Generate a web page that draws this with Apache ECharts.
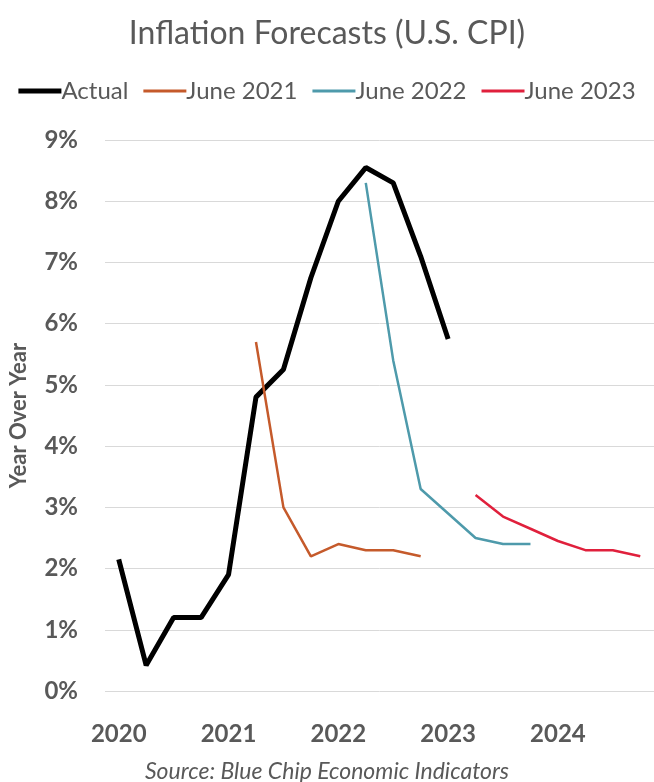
<!DOCTYPE html>
<html>
<head>
<meta charset="utf-8">
<script src="https://cdn.jsdelivr.net/npm/echarts@6/dist/echarts.min.js"></script>
<style>
  html, body { margin: 0; padding: 0; background: #fff; }
  #chart { width: 654px; height: 782px; }
</style>
</head>
<body>
<div id="chart"></div>
<script>
// quarters 2020Q1 .. 2024Q4
const quarters = [
  "2020Q1", "2020Q2", "2020Q3", "2020Q4",
  "2021Q1", "2021Q2", "2021Q3", "2021Q4",
  "2022Q1", "2022Q2", "2022Q3", "2022Q4",
  "2023Q1", "2023Q2", "2023Q3", "2023Q4",
  "2024Q1", "2024Q2", "2024Q3", "2024Q4"
];
const actual = [2.15, 0.42, 1.2, 1.2, 1.9, 4.8, 5.25, 6.75, 8.0, 8.55, 8.3, 7.1, 5.75,
  null, null, null, null, null, null, null];
const june2021 = [null, null, null, null, null, 5.7, 3.0, 2.2, 2.4, 2.3, 2.3, 2.2,
  null, null, null, null, null, null, null, null];
const june2022 = [null, null, null, null, null, null, null, null, null, 8.3, 5.4, 3.3,
  2.9, 2.5, 2.4, 2.4, null, null, null, null];
const june2023 = [null, null, null, null, null, null, null, null, null, null, null, null,
  null, 3.2, 2.85, 2.65, 2.45, 2.3, 2.3, 2.2];

const gray = "#595959";
const font = "Lato, 'Open Sans', sans-serif";

const chart = echarts.init(document.getElementById("chart"));

function lineSeries(name, data, color, width) {
  return {
    name: name,
    type: "line",
    data: data,
    symbol: "none",
    lineStyle: { color: color, width: width },
    itemStyle: { color: color }
  };
}

// flat bar icons for the legend (thick for Actual)
const thickIcon = "path://M0,0H43V5H0Z";
const thinIcon = "path://M0,0H43V3H0Z";

chart.setOption({
  backgroundColor: "#fff",
  textStyle: { fontFamily: font },
  title: {
    text: "Inflation Forecasts (U.S. CPI)",
    left: "center",
    top: 13,
    textStyle: { fontSize: 32, fontWeight: "normal", color: gray, fontFamily: font }
  },
  legend: {
    top: 74,
    left: "center",
    itemWidth: 43,
    itemHeight: 10,
    itemGap: 15,
    textStyle: { fontSize: 24, color: gray, fontFamily: font, padding: [0, 0, 0, -5] },
    data: [
      { name: "Actual", icon: thickIcon },
      { name: "June 2021", icon: thinIcon },
      { name: "June 2022", icon: thinIcon },
      { name: "June 2023", icon: thinIcon }
    ]
  },
  grid: { left: 105, right: 0, top: 140, bottom: 91 },
  xAxis: {
    type: "category",
    data: quarters,
    boundaryGap: true,
    axisLine: { show: false },
    axisTick: { show: false },
    axisLabel: {
      interval: 0,
      margin: 31,
      fontSize: 24,
      fontWeight: "bold",
      color: gray,
      formatter: function (v, i) { return i % 4 === 0 ? v.slice(0, 4) : ""; }
    }
  },
  yAxis: {
    type: "value",
    min: 0,
    max: 9,
    interval: 1,
    name: "Year Over Year",
    nameLocation: "middle",
    nameGap: 75,
    nameTextStyle: { fontSize: 22, fontWeight: "bold", color: gray },
    axisLabel: { formatter: "{value}%", fontSize: 24, fontWeight: "bold", color: gray, margin: 27 },
    splitLine: { lineStyle: { color: "#d9d9d9", width: 1 } }
  },
  series: [
    lineSeries("Actual", actual, "#000000", 5),
    lineSeries("June 2021", june2021, "#c55a2b", 2.5),
    lineSeries("June 2022", june2022, "#4e9aab", 2.5),
    lineSeries("June 2023", june2023, "#e0203c", 2.5)
  ],
  graphic: [{
    type: "text",
    left: "center",
    top: 760,
    style: {
      text: "Source: Blue Chip Economic Indicators",
      font: "italic 23px " + font,
      fill: gray
    }
  }]
});
</script>
</body>
</html>
